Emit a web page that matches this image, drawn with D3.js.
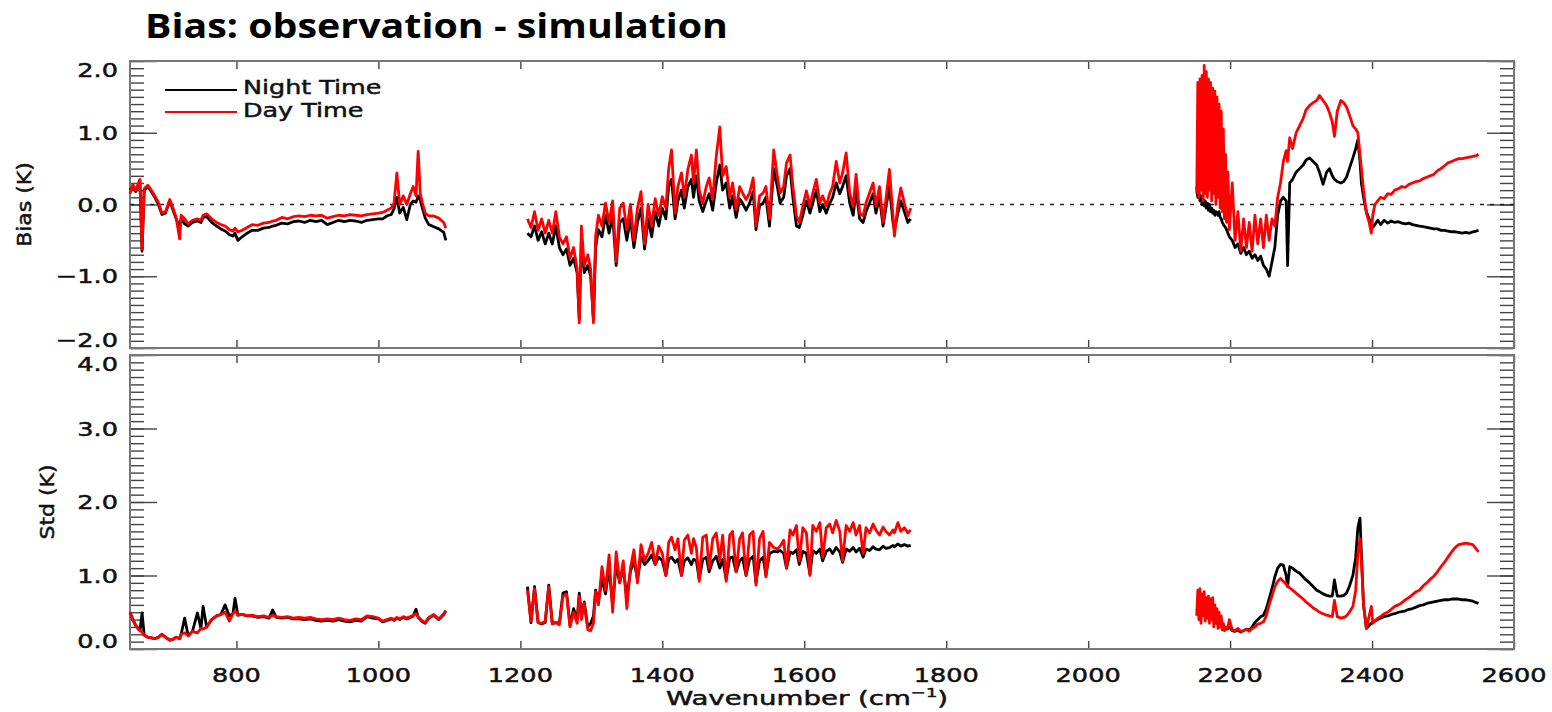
<!DOCTYPE html>
<html>
<head>
<meta charset="utf-8">
<script src="https://cdn.jsdelivr.net/npm/d3@7"></script>
<style>
  body { margin: 0; background: #fff; }
  svg { display: block; }
</style>
</head>
<body>
<div id="chart"></div>
<script>
// --- Data ---
// Band 1 (long wave)
const lwWn = [650,654,658,662,664,667,670,675,680,685,
  690,695,700,706,710,715,720,722,727,732,
  738,745,750,753,758,765,772,778,784,790,
  795,798,802,808,815,822,830,838,846,851,
  856,864,872,880,888,896,904,912,920,928,
  936,944,952,960,968,976,984,992,1000,1006,
  1012,1018,1022,1026,1030,1035,1040,1045,1049,1053,
  1056,1059,1062,1066,1071,1078,1085,1092,1095];
const lwBiasDay = [0.15,0.28,0.2,0.3,0.35,-0.62,0.22,0.27,0.2,0.12,
  0.03,-0.12,-0.1,0.07,-0.03,-0.18,-0.48,-0.15,-0.2,-0.27,
  -0.22,-0.2,-0.22,-0.15,-0.13,-0.2,-0.25,-0.28,-0.3,-0.35,
  -0.37,-0.33,-0.38,-0.36,-0.32,-0.28,-0.29,-0.26,-0.25,-0.23,
  -0.22,-0.18,-0.2,-0.17,-0.16,-0.17,-0.15,-0.16,-0.15,-0.19,
  -0.17,-0.15,-0.16,-0.14,-0.15,-0.16,-0.14,-0.13,-0.12,-0.11,
  -0.08,-0.05,0.02,0.44,0.0,0.12,0.0,0.15,0.25,0.12,
  0.74,0.15,0.02,-0.12,-0.16,-0.16,-0.19,-0.25,-0.33];
const lwBiasNight = [0.2,0.25,0.18,0.26,0.3,-0.65,0.2,0.25,0.18,0.1,
  0.0,-0.14,-0.12,0.05,-0.06,-0.2,-0.32,-0.2,-0.27,-0.3,
  -0.25,-0.23,-0.25,-0.18,-0.17,-0.25,-0.3,-0.34,-0.37,-0.42,
  -0.44,-0.4,-0.5,-0.45,-0.4,-0.36,-0.36,-0.33,-0.32,-0.3,
  -0.29,-0.26,-0.27,-0.24,-0.23,-0.25,-0.22,-0.24,-0.22,-0.28,
  -0.25,-0.22,-0.24,-0.22,-0.23,-0.25,-0.22,-0.21,-0.2,-0.2,
  -0.16,-0.14,-0.06,0.1,-0.12,-0.04,-0.21,0.0,0.05,0.03,
  0.12,0.06,-0.05,-0.19,-0.28,-0.31,-0.34,-0.39,-0.5];
const lwStdDay = [0.5,0.4,0.32,0.27,0.25,0.23,0.19,0.16,0.15,0.14,
  0.16,0.2,0.16,0.12,0.13,0.16,0.14,0.2,0.22,0.18,
  0.24,0.22,0.28,0.27,0.3,0.4,0.45,0.47,0.5,0.38,
  0.48,0.52,0.46,0.47,0.45,0.46,0.44,0.45,0.43,0.46,
  0.44,0.43,0.44,0.42,0.43,0.42,0.43,0.41,0.4,0.41,
  0.4,0.42,0.4,0.39,0.41,0.4,0.45,0.44,0.42,0.38,
  0.4,0.42,0.4,0.43,0.41,0.44,0.42,0.44,0.46,0.48,
  0.44,0.41,0.38,0.36,0.43,0.47,0.41,0.48,0.52];
const lwStdNight = [0.5,0.4,0.32,0.27,0.25,0.49,0.19,0.16,0.15,0.14,
  0.16,0.2,0.16,0.12,0.13,0.16,0.14,0.2,0.42,0.18,
  0.24,0.49,0.28,0.58,0.3,0.4,0.45,0.47,0.6,0.45,
  0.48,0.69,0.46,0.47,0.45,0.45,0.43,0.44,0.42,0.53,
  0.43,0.42,0.43,0.41,0.41,0.4,0.41,0.39,0.38,0.39,
  0.38,0.4,0.38,0.37,0.39,0.38,0.44,0.42,0.41,0.37,
  0.39,0.41,0.39,0.42,0.4,0.43,0.41,0.43,0.45,0.54,
  0.43,0.4,0.37,0.35,0.42,0.46,0.4,0.47,0.52];

// Band 2 (mid wave)
const mwWn = [1210,1215,1220,1225,1230,1235,1240,1245,1250,1255,
  1260,1265,1270,1275,1280,1283,1286,1290,1295,1299,
  1303,1306,1310,1315,1320,1325,1330,1335,1340,1345,
  1350,1355,1360,1365,1370,1375,1380,1385,1390,1395,
  1400,1405,1409,1413,1418,1422,1427,1431,1436,1441,
  1444,1448,1452,1457,1462,1466,1471,1476,1481,1485,
  1490,1495,1499,1504,1509,1513,1518,1523,1528,1532,
  1537,1542,1546,1551,1557,1562,1566,1571,1575,1580,
  1584,1589,1593,1598,1603,1608,1612,1617,1622,1626,
  1631,1636,1640,1645,1650,1654,1659,1664,1669,1673,
  1678,1683,1687,1692,1697,1701,1706,1711,1715,1720,
  1725,1727,1732,1736,1741,1746,1750];
const mwBiasDay = [-0.2,-0.32,-0.1,-0.36,-0.2,-0.4,-0.22,-0.4,-0.1,-0.45,
  -0.55,-0.45,-0.75,-0.6,-0.9,-1.65,-0.3,-0.85,-0.7,-0.9,
  -1.65,-0.45,-0.15,-0.3,0.02,-0.25,0.05,-0.8,-0.05,0.02,
  -0.35,0.0,-0.5,-0.05,0.18,-0.55,0.0,-0.3,0.08,-0.15,
  0.11,-0.05,0.5,0.76,-0.12,0.25,0.44,0.1,0.49,0.69,
  0.3,0.76,0.2,0.02,0.25,0.37,0.07,0.67,1.08,0.4,
  0.53,0.1,0.3,-0.07,0.25,0.16,0.07,0.16,0.37,-0.3,
  0.12,0.16,0.25,-0.2,0.76,0.4,0.16,0.25,0.58,0.69,
  0.25,-0.16,-0.25,-0.02,0.19,-0.02,0.16,0.35,0.02,0.12,
  -0.02,0.16,0.25,0.6,0.3,0.44,0.72,0.16,-0.02,0.42,
  -0.12,-0.16,0.02,0.16,0.3,-0.02,0.25,-0.25,0.07,0.49,
  -0.16,-0.44,0.0,0.23,0.02,-0.16,-0.05];
const mwBiasNight = [-0.4,-0.45,-0.3,-0.5,-0.38,-0.55,-0.4,-0.55,-0.3,-0.6,
  -0.7,-0.62,-0.85,-0.75,-0.95,-1.6,-0.5,-0.95,-0.85,-1.0,
  -1.6,-0.6,-0.35,-0.45,-0.15,-0.4,-0.15,-0.85,-0.25,-0.2,
  -0.5,-0.2,-0.6,-0.25,-0.05,-0.62,-0.2,-0.45,-0.1,-0.3,
  -0.05,-0.2,0.25,0.35,-0.2,0.05,0.2,-0.05,0.25,0.35,
  0.1,0.4,0.05,-0.1,0.05,0.15,-0.08,0.3,0.55,0.2,
  0.3,-0.05,0.12,-0.18,0.08,0.02,-0.08,0.02,0.18,-0.35,
  -0.02,0.02,0.1,-0.3,0.5,0.25,0.02,0.1,0.4,0.5,
  0.1,-0.3,-0.32,-0.15,0.05,-0.12,0.02,0.2,-0.1,0.0,
  -0.12,0.02,0.1,0.3,0.15,0.25,0.4,0.02,-0.15,0.2,
  -0.2,-0.25,-0.1,0.02,0.15,-0.12,0.1,-0.3,-0.05,0.25,
  -0.25,-0.35,-0.12,0.05,-0.1,-0.25,-0.2];
const mwStdDay = [0.8,0.38,0.82,0.36,0.35,0.38,0.84,0.34,0.36,0.33,
  0.72,0.75,0.3,0.5,0.35,0.72,0.4,0.62,0.26,0.25,
  0.35,0.78,0.6,1.12,0.8,1.28,0.5,1.32,0.9,1.2,
  0.55,1.1,1.35,0.9,1.42,1.2,1.3,1.45,1.15,1.4,
  1.3,1.0,1.45,1.52,1.35,1.5,1.0,1.48,1.55,1.3,
  1.5,1.38,0.92,1.52,1.55,1.1,1.5,1.58,1.2,1.55,
  0.92,1.55,1.6,1.05,1.5,1.58,1.0,1.55,1.6,0.87,
  1.5,1.6,0.98,1.45,1.38,1.36,1.4,1.48,1.1,1.62,
  1.55,1.68,1.2,1.65,1.58,1.0,1.68,1.6,1.72,1.25,
  1.65,1.7,1.58,1.75,1.6,1.2,1.68,1.6,1.72,1.55,
  1.68,1.3,1.65,1.58,1.7,1.62,1.55,1.66,1.6,1.55,
  1.62,1.58,1.72,1.6,1.65,1.58,1.62];
const mwStdNight = [0.85,0.36,0.85,0.36,0.34,0.36,0.87,0.35,0.36,0.35,
  0.76,0.78,0.32,0.55,0.4,0.76,0.45,0.64,0.3,0.35,
  0.45,0.8,0.65,0.95,0.75,1.1,0.6,1.15,0.9,1.1,
  0.7,1.05,1.2,0.95,1.25,1.15,1.2,1.28,1.15,1.25,
  1.2,1.0,1.22,1.25,1.18,1.22,1.0,1.2,1.24,1.15,
  1.22,1.2,0.95,1.22,1.25,1.05,1.2,1.26,1.1,1.22,
  0.95,1.24,1.25,1.05,1.2,1.24,1.0,1.22,1.26,0.9,
  1.2,1.25,1.0,1.3,1.33,1.32,1.34,1.3,1.1,1.32,
  1.3,1.35,1.15,1.33,1.3,1.02,1.34,1.3,1.36,1.2,
  1.33,1.36,1.3,1.38,1.32,1.18,1.36,1.33,1.38,1.32,
  1.37,1.25,1.36,1.34,1.39,1.36,1.35,1.4,1.37,1.38,
  1.41,1.39,1.43,1.4,1.42,1.4,1.41];

// Band 3 (short wave)
const swWn = [2153,2154.5,2156,2157.5,2159,2160.5,2162,2163.5,2165,2166.5,
  2168,2169.5,2171,2172.5,2174,2175.5,2177,2178.5,2180,2181.5,
  2183,2184.5,2186,2187.5,2189,2190.5,2192,2193.5,2195,2197,
  2199,2203,2207,2211,2215,2219,
  2223,2227,2231,2235,2239,2243,2247,2251,2255,2259,
  2263,2267,2271,2275,2279,2281,2284,2288,2293,2298,
  2303,2307,2312,2317,2322,2326,2331,2336,2340,2344,
  2347,2351,2356,2360,2364,2368,2373,2377,2380,2383,
  2385,2388,2392,2396,2399,2401,2404,2408,2412,2417,
  2422,2427,2432,2437,2442,2447,2452,2457,2462,2467,
  2472,2477,2482,2487,2492,2497,2502,2507,2512,2517,
  2522,2527,2532,2537,2542,2547,2550];
const swBiasDay = [0.15,1.7,0.1,1.75,0.2,1.8,0.05,1.94,0.15,1.85,
  0.1,1.75,0.2,1.7,0.05,1.62,0.15,1.58,0.0,1.5,
  0.1,1.4,-0.05,1.3,-0.1,1.05,-0.2,0.7,-0.25,0.45,
  -0.35,0.3,-0.5,-0.1,-0.65,-0.2,
  -0.6,-0.25,-0.65,-0.15,-0.55,-0.2,-0.6,-0.15,-0.5,-0.2,
  -0.3,0.1,0.3,0.6,0.75,0.6,0.93,0.78,1.0,1.1,
  1.2,1.32,1.38,1.42,1.45,1.52,1.45,1.38,1.28,1.15,
  0.95,1.3,1.45,1.42,1.36,1.25,1.1,1.05,1.0,0.7,
  0.5,0.2,-0.12,-0.25,-0.4,-0.15,0.0,0.05,0.1,0.08,
  0.15,0.14,0.2,0.22,0.25,0.24,0.28,0.3,0.32,0.33,
  0.36,0.38,0.4,0.42,0.47,0.5,0.54,0.58,0.6,0.62,
  0.64,0.64,0.65,0.66,0.67,0.68,0.7];
const swBiasNight = [0.25,0.1,0.2,0.05,0.12,0.0,0.08,-0.02,0.05,-0.05,
  0.02,-0.08,0.0,-0.1,-0.05,-0.12,-0.08,-0.15,-0.1,-0.12,
  -0.15,-0.1,-0.18,-0.2,-0.25,-0.28,-0.3,-0.32,-0.35,-0.4,
  -0.45,-0.5,-0.6,-0.55,-0.68,-0.6,
  -0.7,-0.65,-0.75,-0.7,-0.78,-0.72,-0.85,-0.9,-1.0,-0.8,
  -0.6,-0.15,0.05,0.1,0.05,-0.85,0.3,0.35,0.45,0.5,
  0.55,0.62,0.65,0.6,0.55,0.45,0.28,0.45,0.5,0.4,
  0.35,0.32,0.3,0.32,0.38,0.5,0.65,0.78,0.9,0.6,
  0.3,0.1,-0.1,-0.2,-0.3,-0.32,-0.28,-0.22,-0.28,-0.22,
  -0.26,-0.23,-0.25,-0.24,-0.26,-0.27,-0.26,-0.28,-0.29,-0.3,
  -0.31,-0.32,-0.33,-0.34,-0.34,-0.36,-0.36,-0.37,-0.38,-0.38,
  -0.39,-0.4,-0.39,-0.4,-0.38,-0.37,-0.36];
const swStdDay = [0.45,0.8,0.4,0.82,0.35,0.75,0.45,0.78,0.38,0.7,
  0.42,0.72,0.35,0.68,0.4,0.7,0.3,0.6,0.35,0.55,
  0.28,0.5,0.3,0.45,0.26,0.35,0.25,0.3,0.27,0.3,
  0.4,0.26,0.25,0.28,0.24,0.25,
  0.27,0.24,0.28,0.3,0.34,0.35,0.37,0.45,0.6,0.72,
  0.85,0.92,0.96,0.92,0.88,0.86,0.83,0.8,0.76,0.72,
  0.68,0.64,0.6,0.56,0.53,0.5,0.48,0.46,0.45,0.44,
  0.66,0.44,0.42,0.43,0.45,0.5,0.58,0.8,1.3,1.5,
  1.2,0.6,0.28,0.45,0.58,0.35,0.38,0.42,0.44,0.48,
  0.5,0.54,0.58,0.6,0.63,0.67,0.7,0.74,0.78,0.8,
  0.86,0.9,0.95,0.99,1.05,1.12,1.18,1.25,1.32,1.38,
  1.42,1.43,1.44,1.43,1.42,1.36,1.32];
const swStdNight = [0.55,0.52,0.5,0.54,0.48,0.5,0.47,0.52,0.45,0.48,
  0.44,0.46,0.42,0.45,0.4,0.42,0.38,0.4,0.36,0.4,
  0.33,0.36,0.32,0.34,0.3,0.3,0.28,0.28,0.27,0.28,
  0.3,0.25,0.24,0.26,0.23,0.25,
  0.27,0.26,0.3,0.36,0.4,0.44,0.46,0.55,0.68,0.82,
  0.98,1.1,1.15,1.14,1.0,0.85,1.12,1.1,1.06,1.03,
  0.98,0.94,0.9,0.85,0.8,0.78,0.75,0.73,0.72,0.72,
  0.94,0.72,0.72,0.73,0.76,0.85,1.0,1.25,1.65,1.78,
  1.3,0.6,0.28,0.32,0.35,0.36,0.38,0.4,0.42,0.44,
  0.45,0.47,0.48,0.5,0.51,0.52,0.54,0.55,0.57,0.59,
  0.6,0.62,0.63,0.64,0.65,0.66,0.67,0.67,0.68,0.68,
  0.68,0.67,0.67,0.66,0.65,0.63,0.62];

// Axis ticks
const xTicks = [800, 1000, 1200, 1400, 1600, 1800, 2000, 2200, 2400, 2600];
const biasTicks = [-2, -1, 0, 1, 2];
const stdTicks = [0, 1, 2, 3, 4];

// --- Layout ---
const W = 1552, H = 712;
const plotLeft = 130, plotRight = 1514;
const biasTop = 61, biasBottom = 348;
const stdTop = 355, stdBottom = 649;
const FONT = "'DejaVu Sans', sans-serif";
const STRETCH = 1.28;

const svg = d3.select("#chart").append("svg")
  .attr("width", W)
  .attr("height", H);

const x = d3.scaleLinear().domain([650, 2600]).range([plotLeft, plotRight]);
const yBias = d3.scaleLinear().domain([-2, 2]).range([biasBottom, biasTop]);
const yStd = d3.scaleLinear().domain([0, 4]).range([stdBottom, stdTop]);

const fmt = v => (v < 0 ? "\u2212" : "") + Math.abs(v).toFixed(1);

// slightly heavier text, like the IDL output
function styleText(t, size) {
  return t.style("font-family", FONT)
    .style("font-size", size + "px")
    .attr("fill", "#111")
    .attr("stroke", "#111")
    .attr("stroke-width", 0.5);
}

// --- Panels ---
function drawPanel(y, top, bottom, majors, minors) {
  const g = svg.append("g");

  const tickAxis = (axisFn, size, vals, xpos) => {
    const a = g.append("g")
      .attr("transform", `translate(${xpos},0)`)
      .call(axisFn(y).tickValues(vals).tickSize(size).tickFormat(""));
    a.select(".domain").remove();
    a.selectAll("line").attr("stroke", "#444").attr("stroke-width", 1.4);
  };
  tickAxis(d3.axisLeft, -14, minors, plotLeft);
  tickAxis(d3.axisLeft, -27, majors, plotLeft);
  tickAxis(d3.axisRight, -14, minors, plotRight);
  tickAxis(d3.axisRight, -27, majors, plotRight);

  [[d3.axisTop, top], [d3.axisBottom, bottom]].forEach(([fn, ypos]) => {
    const a = g.append("g")
      .attr("transform", `translate(0,${ypos})`)
      .call(fn(x).tickValues(xTicks).tickSize(-8).tickFormat(""));
    a.select(".domain").remove();
    a.selectAll("line").attr("stroke", "#444").attr("stroke-width", 1.4);
  });

  g.append("rect")
    .attr("x", plotLeft).attr("y", top)
    .attr("width", plotRight - plotLeft).attr("height", bottom - top)
    .attr("fill", "none").attr("stroke", "#777").attr("stroke-width", 2);

  majors.forEach((v, i) => {
    let off = 0;
    if (i === 0) off = -8;
    if (i === majors.length - 1) off = 9;
    const t = g.append("g")
      .attr("transform", `translate(118,${y(v) + off})`)
      .append("text")
      .attr("transform", `scale(${STRETCH},1)`)
      .attr("text-anchor", "end")
      .attr("dy", "0.36em")
      .text(fmt(v));
    styleText(t, 20);
  });
}

drawPanel(yBias, biasTop, biasBottom, biasTicks, d3.range(-20, 21).map(d => d / 10));
drawPanel(yStd, stdTop, stdBottom, stdTicks, d3.range(0, 41).map(d => d / 10));

// zero line
svg.append("line")
  .attr("x1", plotLeft).attr("x2", plotRight)
  .attr("y1", yBias(0)).attr("y2", yBias(0))
  .attr("stroke", "#222").attr("stroke-width", 1.6)
  .attr("stroke-dasharray", "4,6");

// --- Curves ---
const zip = (wn, vals) => wn.map((w, i) => [w, vals[i]]);

function drawCurve(y, wn, vals, color) {
  svg.append("path")
    .datum(zip(wn, vals))
    .attr("fill", "none")
    .attr("stroke", color)
    .attr("stroke-width", 2.8)
    .attr("stroke-linejoin", "round")
    .attr("d", d3.line().x(d => x(d[0])).y(d => y(d[1])));
}

const bands = [
  [lwWn, lwBiasNight, lwBiasDay, lwStdNight, lwStdDay],
  [mwWn, mwBiasNight, mwBiasDay, mwStdNight, mwStdDay],
  [swWn, swBiasNight, swBiasDay, swStdNight, swStdDay]
];
bands.forEach(([wn, bN, bD, sN, sD]) => {
  drawCurve(yBias, wn, bN, "#000");
  drawCurve(yStd, wn, sN, "#000");
});
bands.forEach(([wn, bN, bD, sN, sD]) => {
  drawCurve(yBias, wn, bD, "#ff0000");
  drawCurve(yStd, wn, sD, "#ff0000");
});

// --- x labels ---
xTicks.forEach(v => {
  const t = svg.append("g")
    .attr("transform", `translate(${x(v)},682)`)
    .append("text")
    .attr("transform", `scale(${STRETCH},1)`)
    .attr("text-anchor", "middle")
    .text(v);
  styleText(t, 20);
});

const xt = svg.append("g")
  .attr("transform", "translate(807,705)")
  .append("text")
  .attr("transform", "scale(1.38,1)")
  .attr("text-anchor", "middle");
styleText(xt, 20);
xt.append("tspan").text("Wavenumber (cm");
xt.append("tspan").attr("dy", -8).style("font-size", "13px").text("\u22121");
xt.append("tspan").attr("dy", 8).text(")");

// --- y titles ---
[["Bias (K)", 24, (biasTop + biasBottom) / 2], ["Std (K)", 47, (stdTop + stdBottom) / 2]]
  .forEach(([label, tx, ty]) => {
    const t = svg.append("text")
      .attr("transform", `translate(${tx},${ty}) rotate(-90) scale(1.1,1)`)
      .attr("text-anchor", "middle")
      .attr("dy", "0.36em")
      .text(label);
    styleText(t, 20);
  });

// --- Legend ---
const legendItems = [["Night Time", "#000", 90, 94], ["Day Time", "#ff0000", 112, 117]];
legendItems.forEach(([label, color, ly, ty]) => {
  svg.append("line")
    .attr("x1", 165).attr("x2", 237)
    .attr("y1", ly).attr("y2", ly)
    .attr("stroke", color).attr("stroke-width", 1.8);
  const t = svg.append("g")
    .attr("transform", `translate(243,${ty})`)
    .append("text")
    .attr("transform", "scale(1.27,1)")
    .text(label);
  styleText(t, 20);
});

// --- Title ---
svg.append("text")
  .attr("x", 145)
  .attr("y", 38)
  .attr("textLength", 583)
  .attr("lengthAdjust", "spacingAndGlyphs")
  .style("font-family", "'Open Sans', sans-serif")
  .style("font-weight", "bold")
  .style("font-size", "34px")
  .attr("fill", "#000")
  .text("Bias: observation - simulation");
</script>
</body>
</html>
